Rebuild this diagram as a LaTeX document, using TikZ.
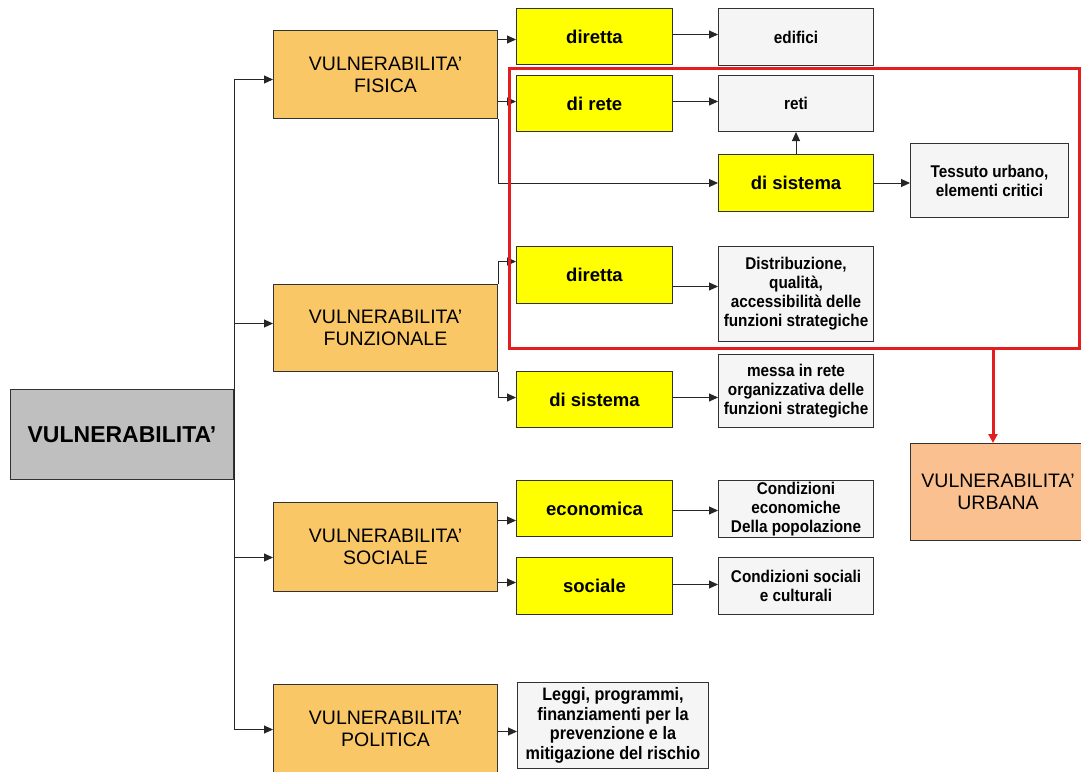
\documentclass[tikz,border=0pt]{standalone}
\usepackage{fontspec}
\setmainfont{Liberation Sans}
\newfontfamily\narrowfont{Liberation Sans}[FakeStretch=0.9]
\usetikzlibrary{arrows.meta,calc}
\definecolor{orng}{RGB}{250,199,102}
\definecolor{peach}{RGB}{250,192,144}
\definecolor{yel}{RGB}{255,255,0}
\definecolor{pale}{RGB}{245,245,245}
\definecolor{rootgrey}{RGB}{191,191,191}
\definecolor{redline}{RGB}{228,30,30}
\definecolor{edge}{RGB}{50,50,50}
\begin{document}
\begin{tikzpicture}[x=1pt,y=-1pt,
  box/.style={draw=edge,line width=1pt,inner sep=0pt,anchor=north west,align=center},
  rbox/.style={box,fill=rootgrey,font=\fontsize{23}{26}\selectfont\bfseries},
  obox/.style={box,fill=orng,font=\fontsize{19.5}{22}\selectfont},
  ubox/.style={box,fill=peach,font=\fontsize{19.5}{22}\selectfont},
  ybox/.style={box,fill=yel,font=\fontsize{18.5}{22}\selectfont\bfseries},
  wbox/.style={box,fill=pale,font=\narrowfont\fontsize{17}{19}\selectfont\bfseries},
  lbox/.style={box,fill=pale,font=\narrowfont\fontsize{18}{19.5}\selectfont\bfseries},
  line/.style={draw=black!85,line width=1pt},
  conn/.style={line,-{Triangle[length=9pt,width=8pt]}},
  redconn/.style={draw=redline,line width=3pt,-{Triangle[length=9pt,width=9pt]}},
  frame/.style={draw=redline,line width=3pt,inner sep=0pt,anchor=north west}
  ]
\useasboundingbox (0,0) rectangle (1081,771);

% root
\node[rbox,minimum width=223pt,minimum height=90pt] (root) at (10,389) {VULNERABILITA’};

% orange
\node[obox,minimum width=224pt,minimum height=88pt] (fis) at (273,30) {VULNERABILITA’\\FISICA};
\node[obox,minimum width=224pt,minimum height=87pt] (fun) at (273,284) {VULNERABILITA’\\FUNZIONALE};
\node[obox,minimum width=224pt,minimum height=89pt] (soc) at (273,502) {VULNERABILITA’\\SOCIALE};
\node[obox,minimum width=224pt,minimum height=88pt] (pol) at (273,684) {VULNERABILITA’\\POLITICA};

% yellow
\node[ybox,minimum width=156pt,minimum height=56pt] (d1) at (516,8) {diretta};
\node[ybox,minimum width=156pt,minimum height=56pt] (dr) at (516,75) {di rete};
\node[ybox,minimum width=155pt,minimum height=57pt] (ds1) at (718,154) {di sistema};
\node[ybox,minimum width=156pt,minimum height=57pt] (d2) at (516,246) {diretta};
\node[ybox,minimum width=156pt,minimum height=56pt] (ds2) at (516,371) {di sistema};
\node[ybox,minimum width=156pt,minimum height=56pt] (eco) at (516,480) {economica};
\node[ybox,minimum width=156pt,minimum height=57pt] (soci) at (516,557) {sociale};

% white
\node[wbox,minimum width=155pt,minimum height=57pt] (edif) at (718,8) {edifici};
\node[wbox,minimum width=155pt,minimum height=56pt] (reti) at (718,75) {reti};
\node[wbox,minimum width=158pt,minimum height=74pt] (tess) at (910,143) {Tessuto urbano,\\elementi critici};
\node[wbox,minimum width=155pt,minimum height=95pt] (dist) at (718,246) {Distribuzione,\\qualità,\\accessibilità delle\\funzioni strategiche};
\node[wbox,minimum width=155pt,minimum height=73pt] (messa) at (718,354) {messa in rete\\organizzativa delle\\funzioni strategiche};
\node[wbox,minimum width=155pt,minimum height=57pt] (ceco) at (718,480) {Condizioni\\economiche\\Della popolazione};
\node[wbox,minimum width=155pt,minimum height=57pt] (csoc) at (718,557) {Condizioni sociali\\e culturali};
\node[lbox,minimum width=191pt,minimum height=86pt] (leggi) at (517,682) {Leggi, programmi,\\finanziamenti per la\\prevenzione e la\\mitigazione del rischio};

% urbana
\node[ubox,minimum width=175pt,minimum height=97pt] (urb) at (910,443) {VULNERABILITA’\\URBANA};

% trunk and branches
\coordinate (b1) at ([yshift=-5pt]fis.west);
\coordinate (b2) at ([yshift=4.5pt]fun.west);
\coordinate (b3) at ([yshift=-10.5pt]soc.west);
\coordinate (b4) at ([yshift=-1pt]pol.west);
\draw[line] (root.east |- b1) -- (root.east |- b4);
\draw[conn] (root.east |- b1) -- (b1);
\draw[conn] (root.east |- b2) -- (b2);
\draw[conn] (root.east |- b3) -- (b3);
\draw[conn] (root.east |- b4) -- (b4);

% fisica
\coordinate (f1) at ([yshift=-3pt]d1.west);
\coordinate (f2) at ([yshift=2pt]dr.west);
\draw[conn] (fis.east |- f1) -- (f1);
\draw[conn] (fis.east |- f2) -- (f2);
\draw[conn] (fis.south east) |- (ds1.west);

% funzionale
\draw[conn] (fun.north east) |- ([yshift=13.5pt]d2.west);
\draw[conn] (fun.south east) |- ([yshift=2pt]ds2.west);

% sociale
\coordinate (s1) at ([yshift=-12pt]eco.west);
\coordinate (s2) at ([yshift=3.5pt]soci.west);
\draw[conn] (soc.east |- s1) -- (s1);
\draw[conn] (soc.east |- s2) -- (s2);

% politica
\coordinate (p1) at ([yshift=-6pt]leggi.west);
\draw[conn] (pol.east |- p1) -- (p1);

% yellow to white
\coordinate (w1) at ([yshift=2.5pt]edif.west);
\coordinate (w2) at ([yshift=2pt]reti.west);
\coordinate (w3) at ([yshift=7.5pt]dist.west);
\coordinate (w4) at ([yshift=-6.5pt]messa.west);
\coordinate (w5) at ([yshift=-1.5pt]ceco.west);
\coordinate (w6) at ([yshift=1.5pt]csoc.west);
\draw[conn] (d1.east |- w1) -- (w1);
\draw[conn] (dr.east |- w2) -- (w2);
\draw[conn] (d2.east |- w3) -- (w3);
\draw[conn] (ds2.east |- w4) -- (w4);
\draw[conn] (eco.east |- w5) -- (w5);
\draw[conn] (soci.east |- w6) -- (w6);
\draw[conn] (ds1.north) -- (ds1.north |- reti.south);
\draw[conn] (ds1.east) -- (ds1.east -| tess.west);

% red frame and arrow
\node[frame,minimum width=570pt,minimum height=280pt] (rf) at (508,67) {};
\coordinate (rs) at ([xshift=485pt]rf.south west);
\draw[redconn] (rs) -- (rs |- urb.north);
\end{tikzpicture}
\end{document}
